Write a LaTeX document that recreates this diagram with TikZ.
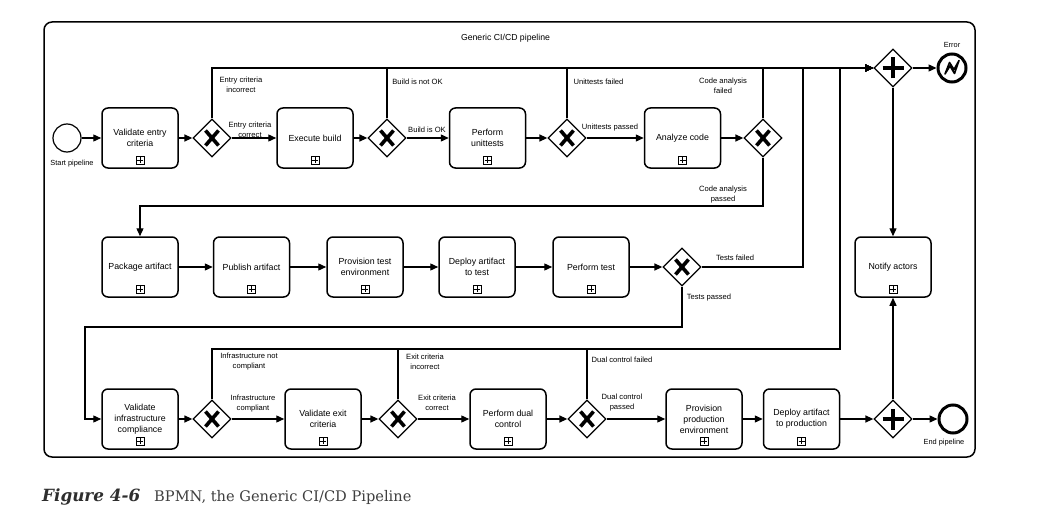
\documentclass[tikz,border=0pt]{standalone}
\usepackage{fontspec}
\newfontfamily\dfont{Liberation Sans}
\newfontfamily\capfont{DejaVu Serif}
\usetikzlibrary{shapes.geometric,arrows.meta}
\definecolor{capcol}{HTML}{2E2E2E}
\definecolor{capcolb}{HTML}{3F3F3F}
\begin{document}
\begin{tikzpicture}[x=1pt,y=-1pt,
  task/.style={draw, line width=1.5pt, rounded corners=6pt, minimum width=76pt, minimum height=60pt,
    inner sep=1pt, align=center, font=\dfont\fontsize{8.8}{11}\selectfont,
    path picture={\draw[sharp corners,line width=0.8pt]
      ([xshift=-4pt,yshift=4pt]path picture bounding box.south) rectangle ([xshift=4pt,yshift=12pt]path picture bounding box.south);
      \draw[sharp corners,line width=0.8pt]
      ([xshift=-3pt,yshift=8pt]path picture bounding box.south) -- ([xshift=3pt,yshift=8pt]path picture bounding box.south)
      ([yshift=5pt]path picture bounding box.south) -- ([yshift=11pt]path picture bounding box.south);}},
  gwx/.style={diamond, draw, line width=1.3pt, minimum size=38pt, inner sep=0pt, fill=white,
    path picture={\draw[line width=3.6pt]
      ([shift={(-6.5pt,-7.5pt)}]path picture bounding box.center) -- ([shift={(6.5pt,7.5pt)}]path picture bounding box.center)
      ([shift={(-6.5pt,7.5pt)}]path picture bounding box.center) -- ([shift={(6.5pt,-7.5pt)}]path picture bounding box.center);}},
  gwp/.style={diamond, draw, line width=1.3pt, minimum size=38pt, inner sep=0pt, fill=white,
    path picture={\draw[line width=4.8pt]
      ([xshift=-10.5pt]path picture bounding box.center) -- ([xshift=10.5pt]path picture bounding box.center)
      ([yshift=-10.5pt]path picture bounding box.center) -- ([yshift=10.5pt]path picture bounding box.center);}},
  evstart/.style={circle, draw, line width=1.2pt, minimum size=28pt, inner sep=0pt, fill=white},
  evend/.style={circle, draw, line width=3pt, minimum size=28pt, inner sep=0pt, fill=white},
  elabel/.style={inner sep=0pt, align=center, font=\dfont\fontsize{7.6}{10}\selectfont},
  evlabel/.style={inner sep=0pt, align=center, font=\dfont\fontsize{7.4}{9}\selectfont},
  flow/.style={line width=1.3pt, -{Triangle[length=8pt,width=7pt]}},
  pool/.style={draw, line width=1.5pt, rounded corners=8pt}
]
\path[fill=white] (0,0) rectangle (1051,532);
\useasboundingbox (0,0) rectangle (1051,532);

% pool
\node[pool, minimum width=931pt, minimum height=435pt, inner sep=0pt] (pool) at (509.5,239.5) {};
\node[inner sep=0pt, font=\dfont\fontsize{8.7}{10}\selectfont] (title) at (505.5,38) {Generic CI/CD pipeline};

% top row
\node[evstart] (start) at (67,138) {};
\node[evlabel] (startl) at (72,164) {Start pipeline};
\node[task] (t1) at (140,138) {Validate entry\\criteria};
\node[gwx] (g1) at (212,138) {};
\node[task] (t2) at (315,138) {Execute build};
\node[gwx] (g2) at (387,138) {};
\node[task] (t3) at (487.5,138) {Perform\\unittests};
\node[gwx] (g3) at (567,138) {};
\node[task] (t4) at (682.5,138) {Analyze code};
\node[gwx] (g4) at (763,138) {};
\node[gwp] (pe) at (893,68) {};
\node[evend] (err) at (952,68) {};
\draw[line width=1.6pt, line join=round]
  ([shift={(-7pt,-6pt)}]err.center) -- ([shift={(-2.5pt,5.5pt)}]err.center) -- ([shift={(2pt,-1.5pt)}]err.center)
  -- ([shift={(7pt,7.5pt)}]err.center) -- ([shift={(2.5pt,-5.5pt)}]err.center) -- ([shift={(-2pt,2pt)}]err.center) -- cycle;
\node[evlabel] (errl) at (952,45) {Error};

% middle row
\node[task] (t5) at (140,267) {Package artifact};
\node[task] (t6) at (251.5,267) {Publish artifact};
\node[task] (t7) at (365,267) {Provision test\\environment};
\node[task] (t8) at (477,267) {Deploy artifact\\to test};
\node[task] (t9) at (591,267) {Perform test};
\node[gwx] (g5) at (682,267) {};
\node[task] (na) at (893,267) {Notify actors};

% bottom row
\node[task] (t10) at (140,419) {Validate\\infrastructure\\compliance};
\node[gwx] (g6) at (212,419) {};
\node[task] (t11) at (323,419) {Validate exit\\criteria};
\node[gwx] (g7) at (398,419) {};
\node[task] (t12) at (508,419) {Perform dual\\control};
\node[gwx] (g8) at (587,419) {};
\node[task] (t13) at (704,419) {Provision\\production\\environment};
\node[task] (t14) at (801.5,419) {Deploy artifact\\to production};
\node[gwp] (pn) at (893,419) {};
\node[evend] (endev) at (953,419) {};
\node[evlabel] (endl) at (944,443) {End pipeline};

% helper coordinates
\coordinate (ca) at (763,206);
\coordinate (tf) at (803,267);
\coordinate (tp) at (85,327);
\coordinate (dl) at (840,349);

% flows top row
\draw[flow] (start) -- (t1);
\draw[flow] (t1) -- (g1);
\draw[flow] (g1) -- (t2);
\draw[flow] (t2) -- (g2);
\draw[flow] (g2) -- (t3);
\draw[flow] (t3) -- (g3);
\draw[flow] (g3) -- (t4);
\draw[flow] (t4) -- (g4);
\draw[flow] (g1.north) |- (pe.west);
\draw[flow] (g2.north) |- (pe.west);
\draw[flow] (g3.north) |- (pe.west);
\draw[flow] (g4.north) |- (pe.west);
\draw[flow] (pe) -- (err);
\draw[flow] (pe) -- (na);
\draw[flow] (g4.south) -- (ca) -| (t5.north);

% flows middle row
\draw[flow] (t5) -- (t6);
\draw[flow] (t6) -- (t7);
\draw[flow] (t7) -- (t8);
\draw[flow] (t8) -- (t9);
\draw[flow] (t9) -- (g5);
\draw[flow] (g5.east) -- (tf) |- (pe.west);
\draw[flow] (g5.south) |- (tp) |- (t10.west);

% flows bottom row
\draw[flow] (t10) -- (g6);
\draw[flow] (g6) -- (t11);
\draw[flow] (t11) -- (g7);
\draw[flow] (g7) -- (t12);
\draw[flow] (t12) -- (g8);
\draw[flow] (g8) -- (t13);
\draw[flow] (t13) -- (t14);
\draw[flow] (t14) -- (pn);
\draw[flow] (pn) -- (endev);
\draw[flow] (pn) -- (na);
\draw[flow] (g6.north) |- (dl) |- (pe.west);
\draw[flow] (g7.north) |- (dl) |- (pe.west);
\draw[flow] (g8.north) |- (dl) |- (pe.west);

% edge labels
\node[elabel] (l1) at (241,85) {Entry criteria\\incorrect};
\node[elabel] (l2) at (250,129.5) {Entry criteria\\correct};
\node[elabel] (l3) at (417.5,82) {Build is not OK};
\node[elabel] (l4) at (427,130) {Build is OK};
\node[elabel] (l5) at (598.5,82) {Unittests failed};
\node[elabel] (l6) at (610,128) {Unittests passed};
\node[elabel] (l7) at (723,86) {Code analysis\\failed};
\node[elabel] (l8) at (723,195) {Code analysis\\passed};
\node[elabel] (l9) at (735,258) {Tests failed};
\node[elabel] (l10) at (709,298) {Tests passed};
\node[elabel] (l11) at (249,362) {Infrastructure not\\compliant};
\node[elabel] (l12) at (253,404) {Infrastructure\\compliant};
\node[elabel] (l13) at (425,362) {Exit criteria\\incorrect};
\node[elabel] (l14) at (437,403) {Exit criteria\\correct};
\node[elabel] (l15) at (622,360) {Dual control failed};
\node[elabel] (l16) at (622,403) {Dual control\\passed};

% caption
\node[anchor=base west, inner sep=0pt, text=capcol, font=\capfont\bfseries\itshape\fontsize{16.8}{20}\selectfont] (fig) at (42,501) {Figure 4-6};
\node[anchor=base west, inner sep=0pt, text=capcolb, font=\capfont\fontsize{14.6}{17}\selectfont] (cap) at (154,501) {BPMN, the Generic CI/CD Pipeline};
\end{tikzpicture}
\end{document}
